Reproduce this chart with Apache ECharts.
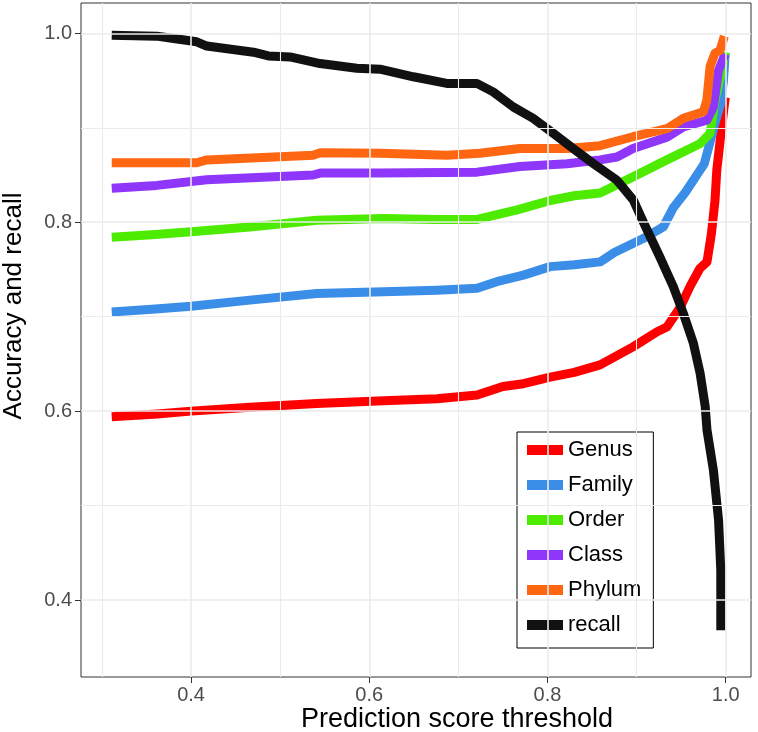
<!DOCTYPE html>
<html>
<head>
<meta charset="utf-8">
<script src="https://cdn.jsdelivr.net/npm/echarts@6/dist/echarts.min.js"></script>
<style>html,body{margin:0;padding:0;background:#fff;}#c{width:758px;height:732px;}</style>
</head>
<body>
<div id="c"></div>
<script>
// ---- data ----
const seriesNames = ['Genus', 'Family', 'Order', 'Class', 'Phylum', 'recall'];

const genusX = [0.311,0.362,0.400,0.466,0.541,0.616,0.676,0.721,0.750,0.773,0.803,0.830,0.859,0.896,0.923,0.934,0.949,0.960,0.971,0.979,0.984,0.988,0.990,0.9955,0.9995];
const genusY = [0.594,0.597,0.600,0.604,0.608,0.611,0.613,0.617,0.626,0.629,0.636,0.641,0.649,0.668,0.684,0.689,0.710,0.732,0.751,0.758,0.788,0.823,0.855,0.901,0.932];

const familyX = [0.311,0.360,0.400,0.466,0.541,0.616,0.676,0.721,0.743,0.773,0.803,0.830,0.859,0.875,0.908,0.930,0.941,0.955,0.969,0.976,0.9825,0.988,0.994,0.9975,0.9995];
const familyY = [0.705,0.708,0.711,0.7175,0.7246,0.7263,0.728,0.730,0.737,0.744,0.753,0.755,0.758,0.768,0.783,0.795,0.815,0.832,0.852,0.862,0.885,0.905,0.925,0.950,0.979];

const orderX = [0.311,0.360,0.400,0.466,0.541,0.616,0.676,0.721,0.766,0.803,0.830,0.859,0.896,0.934,0.971,0.9825,0.988,0.9955,0.9995];
const orderY = [0.784,0.787,0.790,0.795,0.802,0.804,0.803,0.803,0.813,0.823,0.828,0.831,0.848,0.866,0.883,0.894,0.929,0.961,0.980];

const classX = [0.311,0.3615,0.4176,0.537,0.545,0.612,0.721,0.769,0.822,0.859,0.878,0.896,0.934,0.9525,0.9788,0.9862,0.992,0.9995];
const classY = [0.836,0.839,0.845,0.850,0.852,0.852,0.853,0.859,0.862,0.866,0.869,0.878,0.890,0.901,0.908,0.922,0.961,0.978];

const phylumX = [0.311,0.4064,0.4176,0.537,0.545,0.612,0.687,0.724,0.769,0.822,0.859,0.896,0.934,0.9525,0.975,0.9788,0.9825,0.988,0.9937,0.9985];
const phylumY = [0.863,0.863,0.866,0.871,0.8735,0.873,0.871,0.873,0.878,0.878,0.881,0.8905,0.899,0.910,0.917,0.929,0.965,0.979,0.982,0.997];

const recallX = [0.311,0.3615,0.3765,0.4064,0.4176,0.470,0.4868,0.511,0.5448,0.586,0.612,0.6495,0.687,0.7207,0.739,0.7617,0.784,0.8066,0.829,0.8515,0.8778,0.8964,0.9076,0.926,0.9413,0.9525,0.9638,0.9713,0.977,0.979,0.9862,0.992,0.9945,0.9945];
const recallY = [0.998,0.997,0.995,0.991,0.9865,0.980,0.976,0.975,0.968,0.963,0.962,0.954,0.947,0.947,0.938,0.922,0.910,0.894,0.878,0.862,0.8446,0.8234,0.800,0.7634,0.7316,0.7034,0.6717,0.640,0.605,0.580,0.5375,0.4846,0.4317,0.368];

const xTicks = [0.4, 0.6, 0.8, 1.0];
const yTicks = [0.4, 0.6, 0.8, 1.0];
const xMinor = [0.3, 0.5, 0.7, 0.9];
const yMinor = [0.5, 0.7, 0.9];

// ---- build ----
const colors = ['#FF0000', '#3A8EE8', '#4CEB00', '#8E36FA', '#FF6611', '#111111'];
const xs = [genusX, familyX, orderX, classX, phylumX, recallX];
const ys = [genusY, familyY, orderY, classY, phylumY, recallY];

function zip(a, b) { return a.map((v, i) => [v, b[i]]); }

const gridColor = '#EBEBEB';
const markData = []
  .concat(xTicks.map(v => ({ xAxis: v, lineStyle: { color: gridColor, width: 1.6 } })))
  .concat(xMinor.map(v => ({ xAxis: v, lineStyle: { color: gridColor, width: 1.1 } })))
  .concat(yTicks.map(v => ({ yAxis: v, lineStyle: { color: gridColor, width: 1.6 } })))
  .concat(yMinor.map(v => ({ yAxis: v, lineStyle: { color: gridColor, width: 1.1 } })));

const series = [{
  type: 'line', data: [], z: 1, silent: true, showSymbol: false,
  markLine: { silent: true, symbol: ['none', 'none'], label: { show: false },
    lineStyle: { type: 'solid' }, data: markData, animation: false }
}];
seriesNames.forEach((n, i) => {
  series.push({
    name: n, type: 'line', z: 2, data: zip(xs[i], ys[i]),
    showSymbol: false, symbol: 'none', smooth: false,
    color: colors[i],
    lineStyle: { width: 9, color: colors[i], cap: 'butt', join: 'round' },
    itemStyle: { color: colors[i] }
  });
});

const font = 'Liberation Sans, Arial, Helvetica, sans-serif';
const chart = echarts.init(document.getElementById('c'), null, { renderer: 'canvas' });
chart.setOption({
  animation: false,
  backgroundColor: '#fff',
  grid: { left: 81, top: 3, right: 7, bottom: 55, containLabel: false, outerBoundsMode: 'none',
    show: true, borderColor: '#333', borderWidth: 1, backgroundColor: 'transparent' },
  xAxis: {
    type: 'value', min: 0.2765, max: 1.0284,
    axisLine: { show: false },
    splitLine: { show: false },
    axisTick: { show: true, customValues: xTicks, length: 6, lineStyle: { color: '#333', width: 1 } },
    axisLabel: { customValues: xTicks, margin: 8, color: '#4D4D4D', fontSize: 20, fontFamily: font,
      formatter: v => v.toFixed(1) }
  },
  yAxis: {
    type: 'value', min: 0.3185, max: 1.0321,
    axisLine: { show: false },
    splitLine: { show: false },
    axisTick: { show: true, customValues: yTicks, length: 6, lineStyle: { color: '#333', width: 1 } },
    axisLabel: { customValues: yTicks, margin: 9, color: '#4D4D4D', fontSize: 20, fontFamily: font,
      formatter: v => v.toFixed(1) }
  },
  legend: {
    data: seriesNames, orient: 'vertical', left: 517, top: 432,
    padding: [7, 12, 12, 10], itemGap: 13, itemWidth: 36, itemHeight: 10, icon: 'rect',
    borderColor: '#000', borderWidth: 1, backgroundColor: '#fff', borderRadius: 0,
    textStyle: { fontSize: 22, lineHeight: 22, color: '#000', fontFamily: font },
    selectedMode: false
  },
  graphic: [
    { type: 'text', x: 457, y: 720, style: { text: 'Prediction score threshold', fontSize: 27,
      fontFamily: font, fill: '#000', align: 'center', verticalAlign: 'middle' } },
    { type: 'text', x: 14, y: 306, rotation: Math.PI / 2, style: { text: 'Accuracy and recall', fontSize: 26,
      fontFamily: font, fill: '#000', align: 'center', verticalAlign: 'middle' } }
  ],
  series: series
});
</script>
</body>
</html>
